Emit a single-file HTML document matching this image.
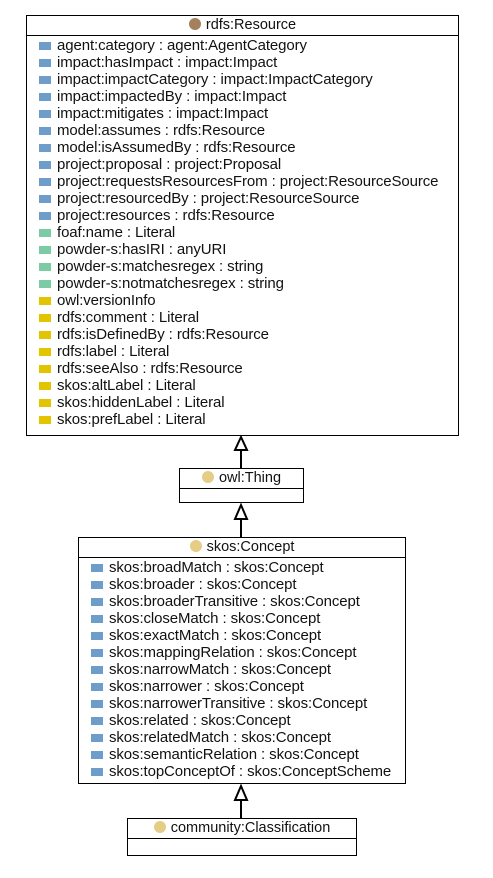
<!DOCTYPE html>
<html><head><meta charset="utf-8"><style>
body{margin:0;width:493px;height:878px;background:#fff;font-family:"Liberation Sans",sans-serif;font-size:14px;color:#111;position:relative;overflow:hidden}
.box{position:absolute;border:1px solid #000;background:#fff;box-sizing:border-box}
.hd{height:19px;border-bottom:1px solid #000;text-align:center;line-height:19px;white-space:nowrap;font-size:14.5px}
.c{display:inline-block;width:12px;height:12px;border-radius:50%;vertical-align:-1px;margin-right:5px}
.rows{padding-top:1px;font-size:15px;letter-spacing:-0.1px}
.r{height:17px;line-height:17px;white-space:nowrap;padding-left:12px}
.r i{display:inline-block;width:12px;height:8px;margin-right:6px;vertical-align:0px}
.b i{background:#6d9dc8}
.g i{background:#7ccba4}
.y i{background:#e3c400}
svg{position:absolute;left:0;top:0}
</style></head><body>
<div class="box" style="left:26px;top:15px;width:433px;height:421px">
<div class="hd"><span class="c" style="background:#a5805f"></span>rdfs:Resource</div>
<div class="rows">
<div class="r b"><i></i>agent:category : agent:AgentCategory</div>
<div class="r b"><i></i>impact:hasImpact : impact:Impact</div>
<div class="r b"><i></i>impact:impactCategory : impact:ImpactCategory</div>
<div class="r b"><i></i>impact:impactedBy : impact:Impact</div>
<div class="r b"><i></i>impact:mitigates : impact:Impact</div>
<div class="r b"><i></i>model:assumes : rdfs:Resource</div>
<div class="r b"><i></i>model:isAssumedBy : rdfs:Resource</div>
<div class="r b"><i></i>project:proposal : project:Proposal</div>
<div class="r b"><i></i>project:requestsResourcesFrom : project:ResourceSource</div>
<div class="r b"><i></i>project:resourcedBy : project:ResourceSource</div>
<div class="r b"><i></i>project:resources : rdfs:Resource</div>
<div class="r g"><i></i>foaf:name : Literal</div>
<div class="r g"><i></i>powder-s:hasIRI : anyURI</div>
<div class="r g"><i></i>powder-s:matchesregex : string</div>
<div class="r g"><i></i>powder-s:notmatchesregex : string</div>
<div class="r y"><i></i>owl:versionInfo</div>
<div class="r y"><i></i>rdfs:comment : Literal</div>
<div class="r y"><i></i>rdfs:isDefinedBy : rdfs:Resource</div>
<div class="r y"><i></i>rdfs:label : Literal</div>
<div class="r y"><i></i>rdfs:seeAlso : rdfs:Resource</div>
<div class="r y"><i></i>skos:altLabel : Literal</div>
<div class="r y"><i></i>skos:hiddenLabel : Literal</div>
<div class="r y"><i></i>skos:prefLabel : Literal</div>
</div></div>
<div class="box" style="left:179px;top:468px;width:125px;height:35px">
<div class="hd"><span class="c" style="background:#e6cd85"></span>owl:Thing</div></div>
<div class="box" style="left:78px;top:537px;width:328px;height:247px">
<div class="hd"><span class="c" style="background:#e6cd85"></span>skos:Concept</div>
<div class="rows">
<div class="r b"><i></i>skos:broadMatch : skos:Concept</div>
<div class="r b"><i></i>skos:broader : skos:Concept</div>
<div class="r b"><i></i>skos:broaderTransitive : skos:Concept</div>
<div class="r b"><i></i>skos:closeMatch : skos:Concept</div>
<div class="r b"><i></i>skos:exactMatch : skos:Concept</div>
<div class="r b"><i></i>skos:mappingRelation : skos:Concept</div>
<div class="r b"><i></i>skos:narrowMatch : skos:Concept</div>
<div class="r b"><i></i>skos:narrower : skos:Concept</div>
<div class="r b"><i></i>skos:narrowerTransitive : skos:Concept</div>
<div class="r b"><i></i>skos:related : skos:Concept</div>
<div class="r b"><i></i>skos:relatedMatch : skos:Concept</div>
<div class="r b"><i></i>skos:semanticRelation : skos:Concept</div>
<div class="r b"><i></i>skos:topConceptOf : skos:ConceptScheme</div>
</div></div>
<div class="box" style="left:127px;top:818px;width:230px;height:38px">
<div class="hd"><span class="c" style="background:#e6cd85"></span>community:Classification</div></div>
<svg width="493" height="878">
<g stroke="#000" stroke-width="2" fill="#fff">
<line x1="241" y1="450" x2="241" y2="468"/><polygon points="241,437 235,450 247,450"/>
<line x1="241" y1="519" x2="241" y2="537"/><polygon points="241,505 235,519 247,519"/>
<line x1="241" y1="800" x2="241" y2="818"/><polygon points="241,786 235,800 247,800"/>
</g></svg>
</body></html>
